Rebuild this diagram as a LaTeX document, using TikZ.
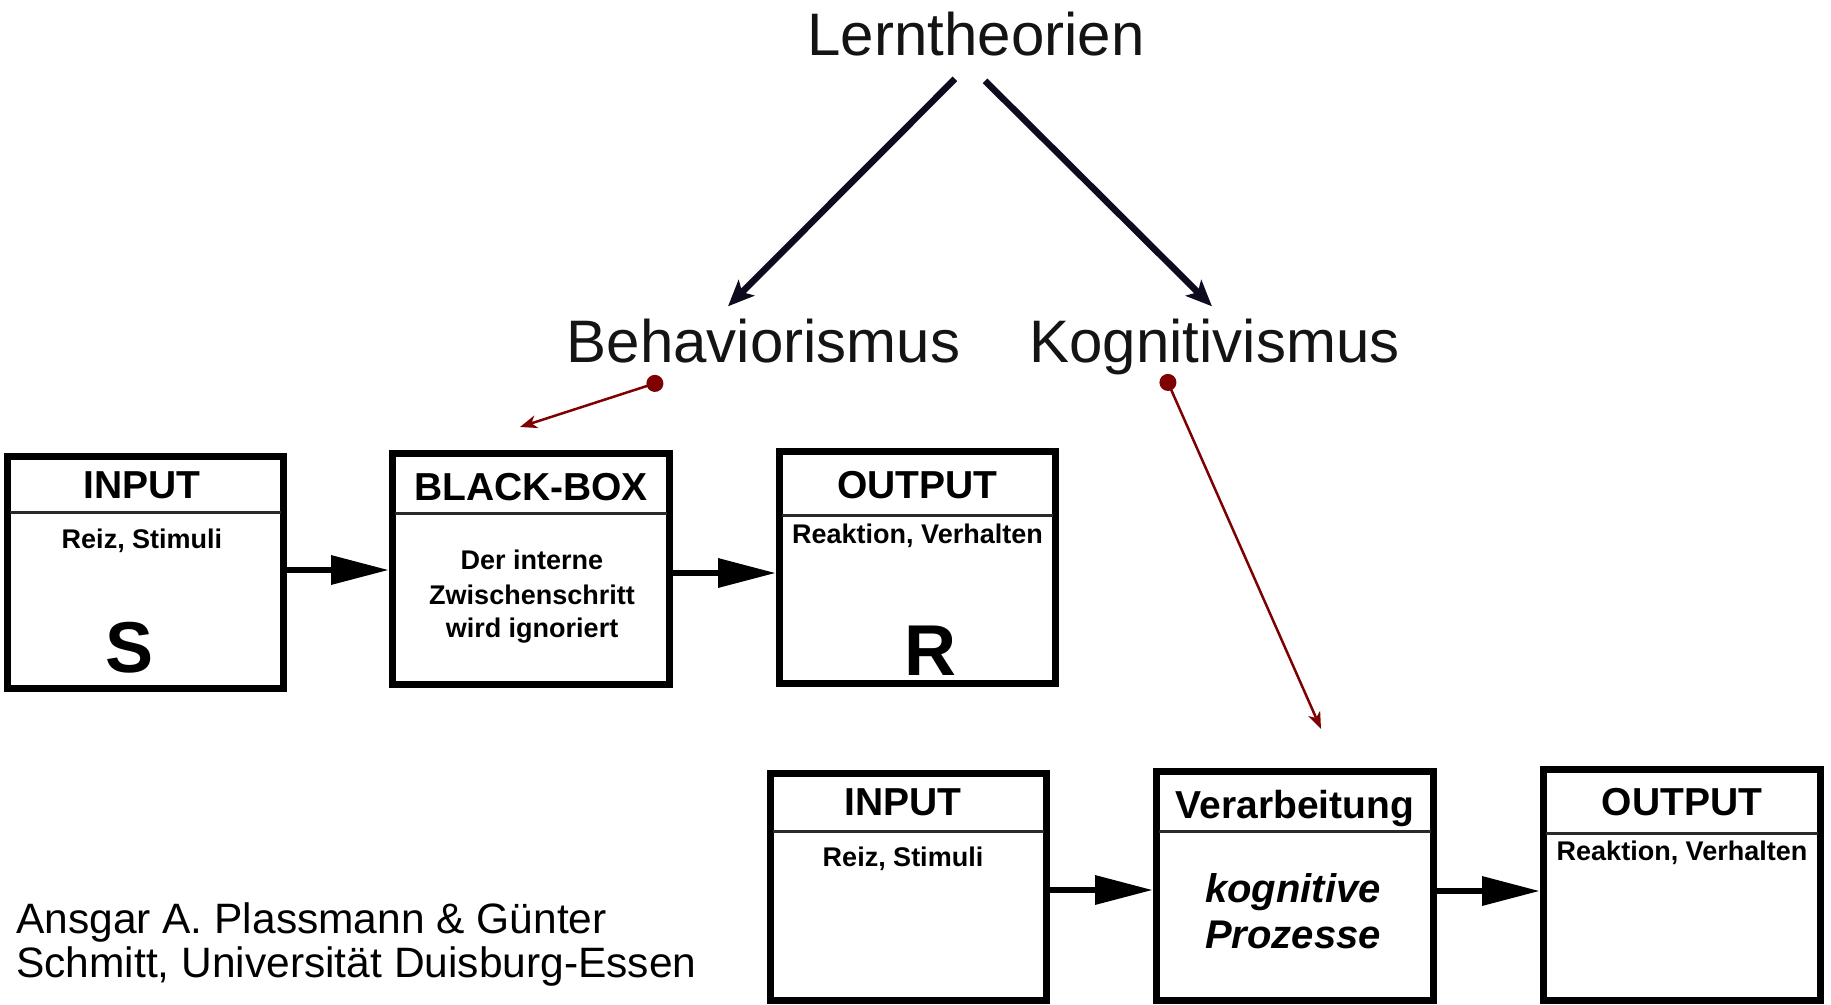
\documentclass[tikz,border=0pt]{standalone}
\usepackage{fontspec}
\setmainfont{Liberation Sans}
\usetikzlibrary{arrows.meta}
\definecolor{navy}{HTML}{0C0C1E}
\definecolor{dred}{HTML}{7F0000}
\definecolor{hgray}{HTML}{2A2A2A}
\begin{document}
\begin{tikzpicture}[x=1pt,y=-1pt,
 pbox/.style={draw=black, line width=7pt, inner sep=0pt, fill=white},
 hline/.style={draw=hgray, line width=3pt, shorten <=6pt, shorten >=6pt},
 txt/.style={anchor=base, inner sep=0pt},
 head/.style={txt, font=\fontsize{39}{44}\selectfont\bfseries},
 body/.style={txt, font=\fontsize{27}{32}\selectfont\bfseries},
 ital/.style={txt, font=\fontsize{40}{46}\selectfont\bfseries\itshape},
 big/.style={txt, font=\fontsize{72}{80}\selectfont\bfseries},
 title/.style={txt, font=\fontsize{60}{70}\selectfont, text=black!92},
 author/.style={anchor=base west, inner sep=0pt, font=\fontsize{42.5}{50}\selectfont},
 flow/.style={draw=black, line width=6.5pt, -{Triangle[length=58pt,width=28pt]}},
 tree/.style={draw=navy, line width=6.5pt, -{Stealth[length=26pt,width=22pt,inset=6pt]}},
 link/.style={draw=dred, line width=2.5pt, {Circle[length=17pt]}-{Stealth[length=17pt,width=13pt,inset=5pt]}},
]
\useasboundingbox[fill=white] (0,0) rectangle (1831,1004);

% titles
\node[title] (lt) at (976,55) {Lerntheorien};
\node[title] (beh) at (763.5,362) {Behaviorismus};
\node[title] (kog) at (1214.5,362) {Kognitivismus};

% boxes top row
\node[pbox, minimum width=276pt, minimum height=232pt] (in1) at (145.5,572.5) {};
\node[pbox, minimum width=277pt, minimum height=231pt] (bb) at (531,569) {};
\node[pbox, minimum width=276pt, minimum height=232pt] (out1) at (917.5,567.5) {};
% boxes bottom row
\node[pbox, minimum width=276pt, minimum height=227pt] (in2) at (908.5,887) {};
\node[pbox, minimum width=277pt, minimum height=229pt] (va) at (1295,886) {};
\node[pbox, minimum width=277pt, minimum height=231pt] (out2) at (1682,885) {};

% header lines
\coordinate (h1) at (0,512);
\coordinate (h2) at (0,513);
\coordinate (h3) at (0,515);
\coordinate (h4) at (0,831);
\coordinate (h5) at (0,831);
\coordinate (h6) at (0,833);
\draw[hline] (in1.west |- h1) -- (in1.east |- h1);
\draw[hline] (bb.west |- h2) -- (bb.east |- h2);
\draw[hline] (out1.west |- h3) -- (out1.east |- h3);
\draw[hline] (in2.west |- h4) -- (in2.east |- h4);
\draw[hline] (va.west |- h5) -- (va.east |- h5);
\draw[hline] (out2.west |- h6) -- (out2.east |- h6);

% texts top row
\node[head] (t1) at (142,498) {INPUT};
\node[body] (t2) at (142,548) {Reiz, Stimuli};
\node[big] (t3) at (130,672) {S};
\node[head] (t4) at (531,500) {BLACK-BOX};
\node[body] (t5) at (532,569) {Der interne};
\node[body] (t6) at (532,604) {Zwischenschritt};
\node[body] (t7) at (532,637) {wird ignoriert};
\node[head] (t8) at (917.5,498) {OUTPUT};
\node[body] (t9) at (917.5,543) {Reaktion, Verhalten};
\node[big] (t10) at (930,675) {R};
% texts bottom row
\node[head] (u1) at (903,815) {INPUT};
\node[body] (u2) at (903,866) {Reiz, Stimuli};
\node[head] (u3) at (1295,818) {Verarbeitung};
\node[ital] (u4) at (1293,902) {kognitive};
\node[ital] (u5) at (1293,948) {Prozesse};
\node[head] (u6) at (1682,815) {OUTPUT};
\node[body] (u7) at (1682,860) {Reaktion, Verhalten};

% author
\node[author] (a1) at (16,933) {Ansgar A. Plassmann \& Günter};
\node[author] (a2) at (16,977) {Schmitt, Universität Duisburg-Essen};

% flow arrows
\draw[flow] ([yshift=2.5pt]in1.east) -- ([yshift=2.5pt]in1.east -| bb.west);
\draw[flow] ([yshift=-4pt]bb.east) -- ([yshift=-4pt]bb.east -| out1.west);
\draw[flow] ([yshift=-3pt]in2.east) -- ([yshift=-3pt]in2.east -| va.west);
\draw[flow] ([yshift=-5pt]va.east) -- ([yshift=-5pt]va.east -| out2.west);

% tree arrows
\draw[tree] ([xshift=-21pt,yshift=-23pt]lt.south) -- ([xshift=-35.5pt,yshift=12pt]beh.north);
\draw[tree] ([xshift=9pt,yshift=-25pt]lt.south) -- ([xshift=-2.5pt,yshift=12pt]kog.north);

% red links
\draw[link] ([xshift=-100.5pt,yshift=-18pt]beh.south) -- ([xshift=-11pt,yshift=23pt]bb.north);
\draw[link] ([xshift=-50pt,yshift=0pt]kog.south) -- ([xshift=26pt,yshift=39pt]va.north);
\end{tikzpicture}
\end{document}
